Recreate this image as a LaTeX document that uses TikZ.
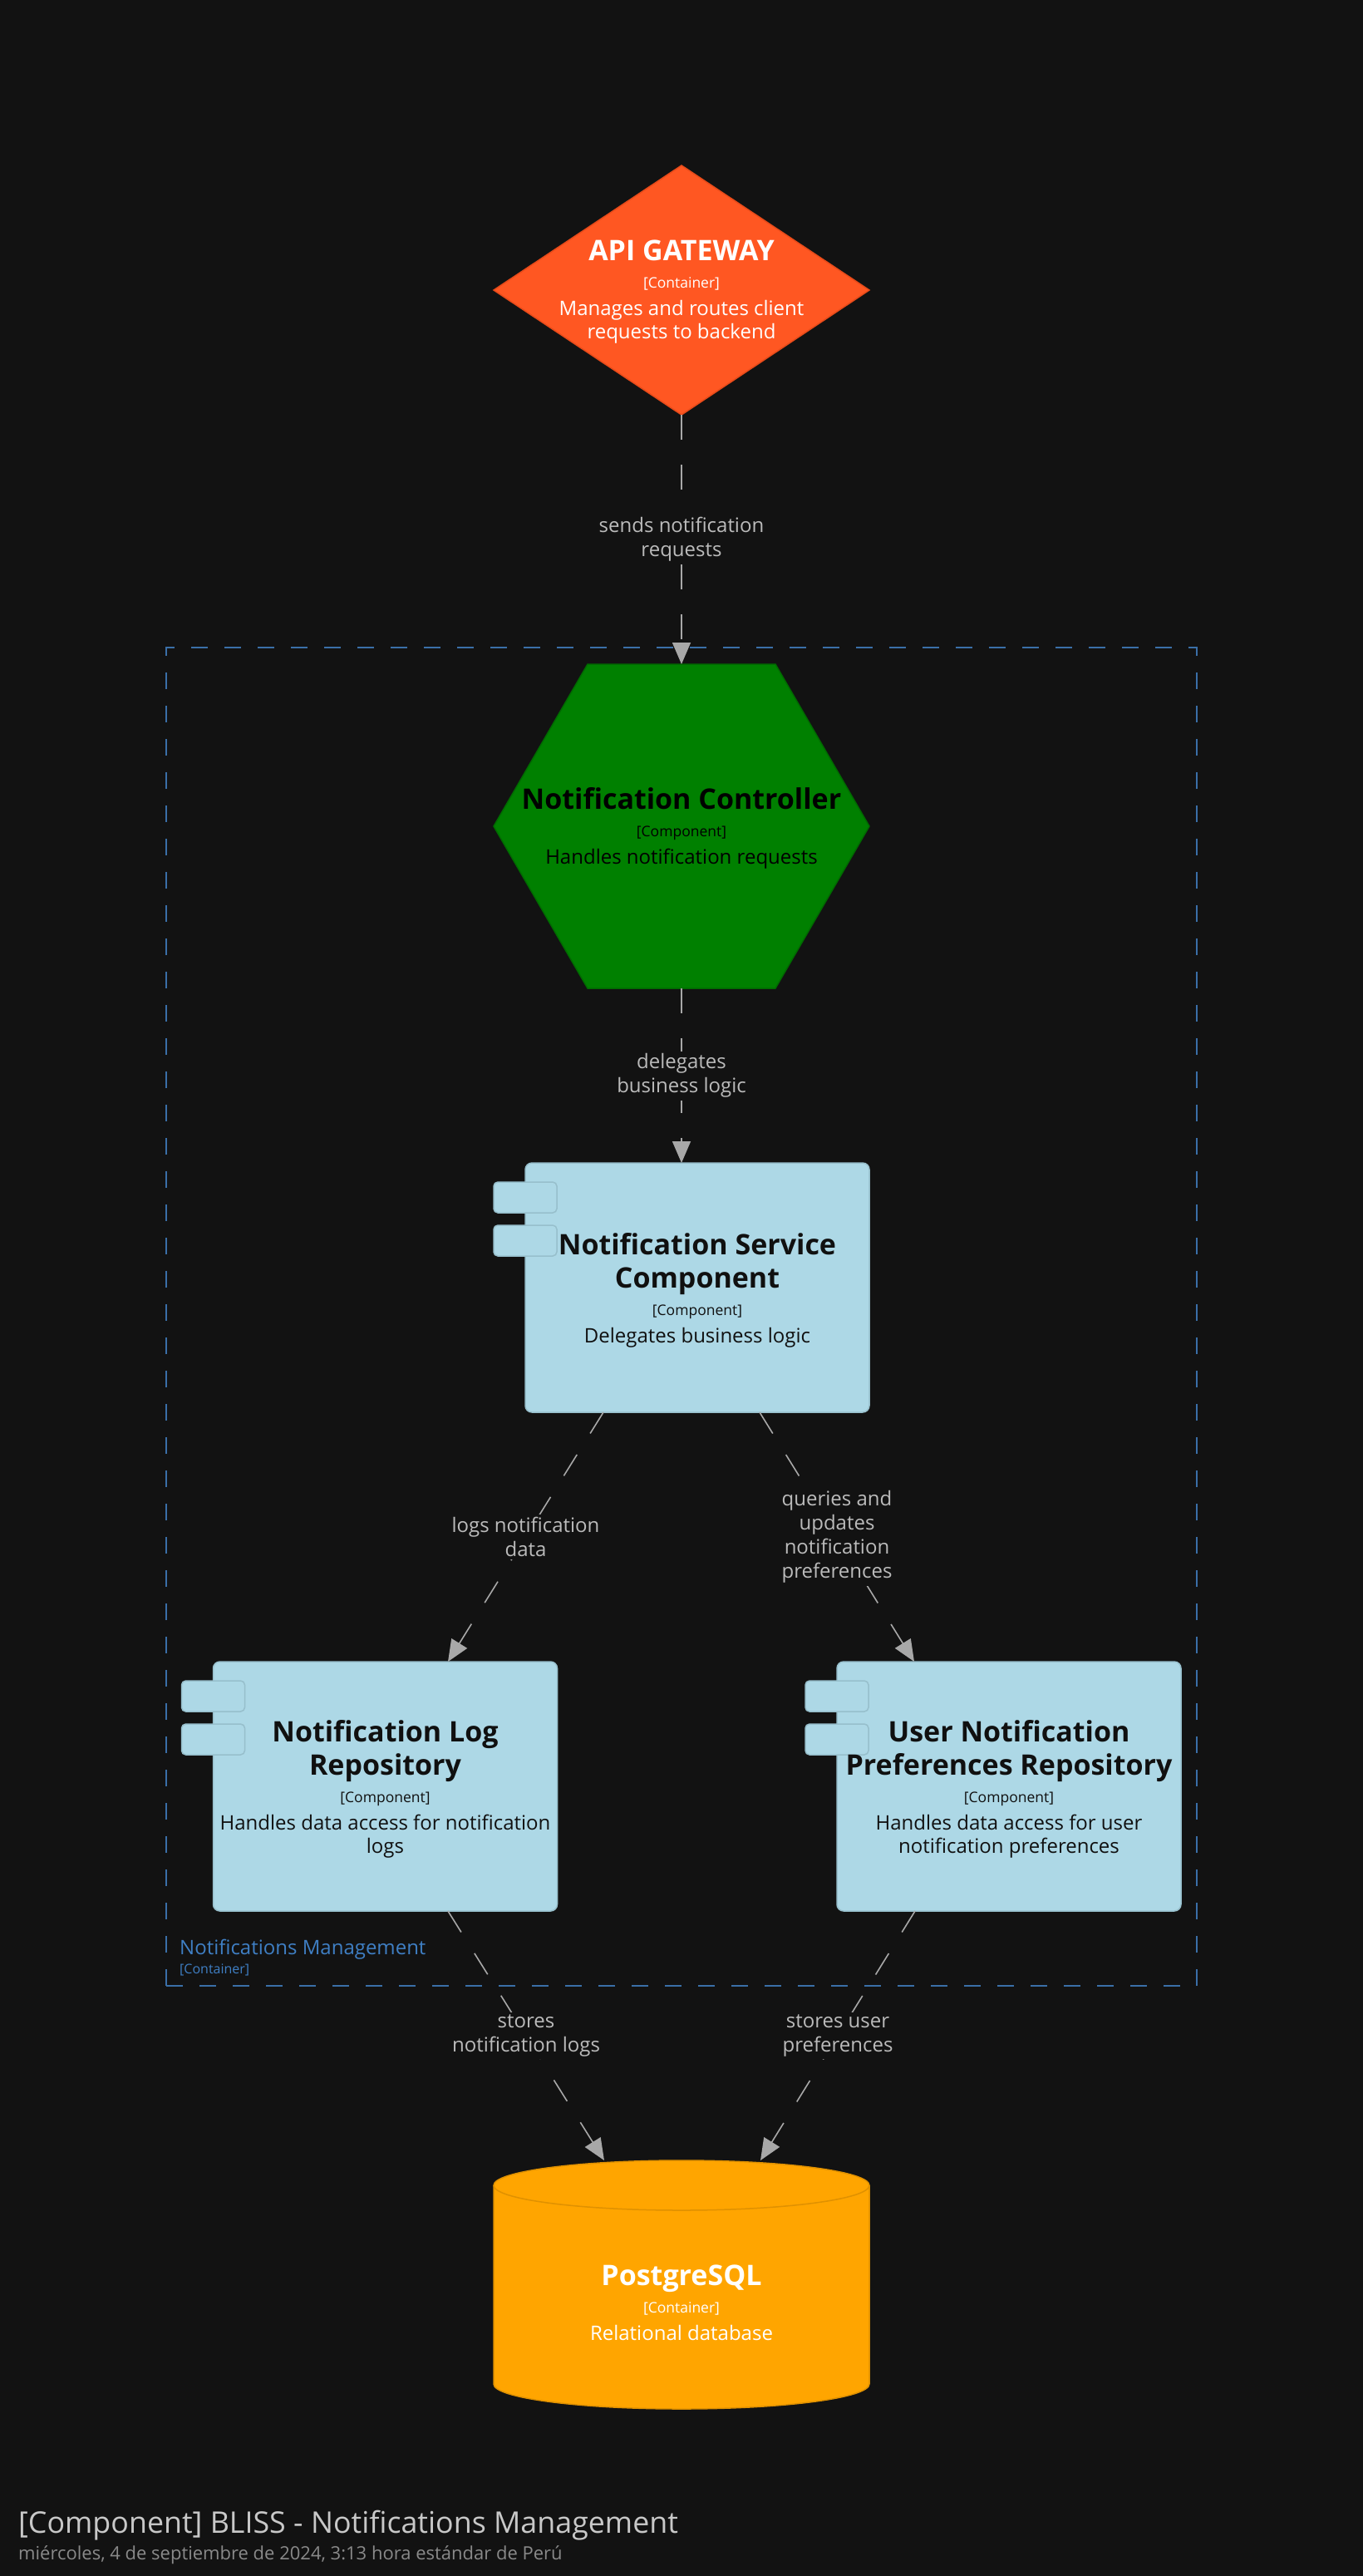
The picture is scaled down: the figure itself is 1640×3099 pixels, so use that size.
\documentclass[tikz,border=0pt]{standalone}
\usepackage{fontspec}
\setmainfont{Open Sans}
\usetikzlibrary{arrows.meta,calc}

\definecolor{bg}{HTML}{121212}
\definecolor{gwfill}{HTML}{FF5722}
\definecolor{gwline}{HTML}{E64A19}
\definecolor{ctlfill}{HTML}{008000}
\definecolor{ctlline}{HTML}{006B00}
\definecolor{compfill}{HTML}{ADD8E6}
\definecolor{compline}{HTML}{97BFCC}
\definecolor{comptext}{HTML}{101010}
\definecolor{dbfill}{HTML}{FFA500}
\definecolor{dbline}{HTML}{E09100}
\definecolor{bndline}{HTML}{3A6FA8}
\definecolor{bndtext}{HTML}{3F7FC4}
\definecolor{relline}{HTML}{A8A8A8}
\definecolor{reltext}{HTML}{BBBBBB}
\definecolor{ttltext}{HTML}{C8C8C8}
\definecolor{subtext}{HTML}{8A8A8A}

% word spaces with the natural, fixed width of the current font
\newcommand\elspace{\spaceskip=\fontdimen2\font\xspaceskip=\fontdimen2\font\relax}
% text blocks of an element: name, technology tag, description
\newcommand\eltitle[1]{{\fontsize{34}{40}\selectfont\bfseries\elspace #1\par}}
\newcommand\eltype[1]{{\fontsize{17.5}{33}\selectfont\elspace #1\par}}
\newcommand\eldesc[1]{\vspace{5pt}{\fontsize{24}{28}\selectfont\elspace #1\par}}

\begin{document}
\begin{tikzpicture}[x=1pt,y=-1pt,
  shapebox/.style={rectangle, draw=none, inner sep=0pt, outer sep=0pt},
  compbox/.style={rectangle, rounded corners=8pt, fill=compfill, draw=compline,
    line width=1.5pt, minimum width=414pt, minimum height=300pt,
    inner sep=0pt, outer sep=0pt},
  tabbox/.style={fill=compfill, draw=compline, line width=1.5pt, rounded corners=5pt},
  eltext/.style={text width=440pt, align=center, inner sep=0pt},
  rel/.style={draw=relline, line width=1.6pt, dash pattern=on 30pt off 30pt,
    -{Triangle[length=26pt,width=22pt]}},
  rellabel/.style={fill=bg, text=reltext, align=center,
    font=\fontsize{24}{29}\selectfont, inner sep=3pt},
  bound/.style={draw=bndline, dash pattern=on 20pt off 20pt, line width=1.5pt,
    inner sep=0pt, outer sep=0pt}
]
\useasboundingbox (0,0) rectangle (1640,3099);
\fill[bg] (0,0) rectangle (1640,3099);

% container boundary
\node[bound, minimum width=1240pt, minimum height=1610pt] (nm) at (820,1584) {};
\node[anchor=base west, text=bndtext, inner sep=0pt,
  font=\fontsize{24}{28}\selectfont] (nmname) at (216,2351) {Notifications Management};
\node[anchor=base west, text=bndtext, inner sep=0pt,
  font=\fontsize{16}{20}\selectfont] (nmtype) at (216,2374) {[Container]};

% API gateway (diamond)
\node[shapebox, minimum width=452pt, minimum height=300pt] (gw) at (820,349) {};
\filldraw[fill=gwfill, draw=gwline, line width=1.5pt]
  (gw.north) -- (gw.east) -- (gw.south) -- (gw.west) -- cycle;
\node[eltext, text=white] (gwtext) at ($(gw.center)+(0,2)$) {%
  \eltitle{API GATEWAY}\eltype{[Container]}%
  \eldesc{Manages and routes client\\requests to backend}};

% notification controller (hexagon)
\node[shapebox, minimum width=452pt, minimum height=390pt] (ctl) at (820,994) {};
\filldraw[fill=ctlfill, draw=ctlline, line width=1.5pt]
  (ctl.west) -- ($(ctl.north west)!.25!(ctl.north east)$)
  -- ($(ctl.north west)!.75!(ctl.north east)$) -- (ctl.east)
  -- ($(ctl.south west)!.75!(ctl.south east)$)
  -- ($(ctl.south west)!.25!(ctl.south east)$) -- cycle;
\node[eltext, text=black] (ctltext) at ($(ctl.center)+(0,2)$) {%
  \eltitle{Notification Controller}\eltype{[Component]}%
  \eldesc{Handles notification requests}};

% components
\node[compbox] (svc) at (839,1549) {};
\node[compbox] (logrepo) at (463.5,2149) {};
\node[compbox] (prefrepo) at (1214,2149) {};
\foreach \c in {svc,logrepo,prefrepo}{
  \draw[tabbox] ($(\c.north west)+(-38,23)$) rectangle ++(76,37);
  \draw[tabbox] ($(\c.north west)+(-38,75)$) rectangle ++(76,37);
}
\node[eltext, text=comptext] (svctext) at ($(svc.center)+(0,3)$) {%
  \eltitle{Notification Service\\Component}\eltype{[Component]}%
  \eldesc{Delegates business logic}};
\node[eltext, text=comptext] (logtext) at ($(logrepo.center)+(0,3)$) {%
  \eltitle{Notification Log\\Repository}\eltype{[Component]}%
  \eldesc{Handles data access for notification\\logs}};
\node[eltext, text=comptext] (preftext) at ($(prefrepo.center)+(0,3)$) {%
  \eltitle{User Notification\\Preferences Repository}\eltype{[Component]}%
  \eldesc{Handles data access for user\\notification preferences}};

% PostgreSQL (cylinder)
\node[shapebox, minimum width=452pt, minimum height=299pt] (db) at (820,2748.5) {};
\begin{scope}[shift={(db.center)}]
  \filldraw[fill=dbfill, draw=dbline, line width=1.5pt]
    (-226,-119.5) .. controls (-226,-136.1) and (-124.8,-149.5) .. (0,-149.5)
    .. controls (124.8,-149.5) and (226,-136.1) .. (226,-119.5)
    -- (226,119.5) .. controls (226,136.1) and (124.8,149.5) .. (0,149.5)
    .. controls (-124.8,149.5) and (-226,136.1) .. (-226,119.5) -- cycle;
  \draw[dbline, line width=1.5pt]
    (-226,-119.5) .. controls (-226,-102.9) and (-124.8,-89.5) .. (0,-89.5)
    .. controls (124.8,-89.5) and (226,-102.9) .. (226,-119.5);
\end{scope}
\node[eltext, text=white] (dbtext) at ($(db.center)+(0,22)$) {%
  \eltitle{PostgreSQL}\eltype{[Container]}%
  \eldesc{Relational database}};

% relationships
\draw[rel] (gw.south) -- node[rellabel] (l1) {sends notification\\requests} (ctl.north);
\draw[rel] (ctl.south) -- node[rellabel] (l2) {delegates\\business logic} (ctl.south |- svc.north);
\draw[rel] ($(svc.south)+(-113,0)$) -- node[rellabel] (l3) {logs notification\\data}
  ($(logrepo.north)+(75.5,0)$);
\draw[rel] ($(svc.south)+(75,0)$) -- node[rellabel] (l4)
  {queries and\\updates\\notification\\preferences} ($(prefrepo.north)+(-114,0)$);
\draw[rel] ($(logrepo.south)+(75.5,0)$) -- node[rellabel] (l5)
  {stores\\notification logs} ($(db.north)+(-93,0)$);
\draw[rel] ($(prefrepo.south)+(-113,0)$) -- node[rellabel] (l6)
  {stores user\\preferences} ($(db.north)+(95,0)$);

% diagram title
\node[anchor=base west, text=ttltext, inner sep=0pt,
  font=\fontsize{35.8}{40}\selectfont] (title) at (22,3047)
  {[Component] BLISS - Notifications Management};
\node[anchor=base west, text=subtext, inner sep=0pt,
  font=\fontsize{22}{26}\selectfont] (subtitle) at (22,3079)
  {miércoles, 4 de septiembre de 2024, 3:13 hora estándar de Perú};
\end{tikzpicture}
\end{document}
